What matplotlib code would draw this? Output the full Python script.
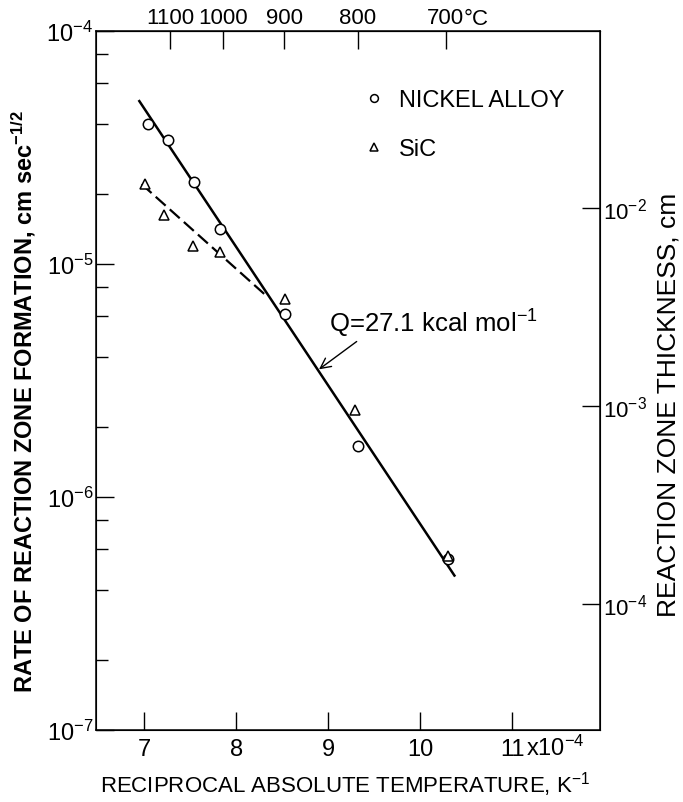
import numpy as np
import matplotlib
matplotlib.use("Agg")
import matplotlib.pyplot as plt
from matplotlib.ticker import FixedLocator, NullFormatter

plt.rcParams['font.family'] = ['Liberation Sans', 'DejaVu Sans']
plt.rcParams['mathtext.default'] = 'regular'

# reciprocal temperature, units of 1e-4 K^-1
nickel_x = [7.04, 7.26, 7.54, 7.83, 8.53, 9.32, 10.30]
nickel_y = [4.0e-5, 3.4e-5, 2.25e-5, 1.41e-5, 6.1e-6, 1.66e-6, 5.4e-7]
sic_x = [7.01, 7.22, 7.53, 7.83, 8.53, 9.29, 10.30]
sic_y = [2.2e-5, 1.63e-5, 1.2e-5, 1.12e-5, 7.06e-6, 2.37e-6, 5.6e-7]

# fitted lines (end points)
fit_x = [6.95, 10.37]
fit_y = [5.0e-5, 4.6e-7]
sic_fit_x = [6.975, 8.32]
sic_fit_y = [2.2e-5, 7.35e-6]

x_ticks = [7, 8, 9, 10, 11]
x_labels = ["7", "8", "9", "10", "11"]
celsius_ticks = [1100, 1000, 900, 800, 700]
celsius_labels = ["1100", "1000", "900", "800", "700"]
right_ticks = [1e-2, 1e-3, 1e-4]
right_labels = ["$10^{-2}$", "$10^{-3}$", "$10^{-4}$"]

fs = 16

fig = plt.figure(figsize=(6.83, 8.03), dpi=100)
ax = fig.add_axes([0.1406, 0.0897, 0.7379, 0.8705])

ax.plot(fit_x, fit_y, color="black", lw=1.8)
ax.plot(sic_fit_x, sic_fit_y, color="black", lw=1.6, ls=(0, (6, 2.5)))
ax.plot(nickel_x, nickel_y, ls="none", marker="o", ms=7.5, mfc="white", mec="black", mew=1.1,
        label="NICKEL ALLOY")
ax.plot(sic_x, sic_y, ls="none", marker="^", ms=7.5, mfc="white", mec="black", mew=1.1,
        label="SiC")

ax.set_yscale("log")
ax.set_xlim(6.48, 11.95)
ax.set_ylim(1e-7, 1e-4)

ax.xaxis.set_major_locator(FixedLocator(x_ticks))
ax.set_xticklabels(x_labels)
ax.yaxis.set_minor_locator(FixedLocator([m * 10.0**e for e in (-7, -6, -5) for m in (2, 4, 6, 8)]))
ax.yaxis.set_minor_formatter(NullFormatter())
ax.yaxis.set_major_locator(FixedLocator([1e-7, 1e-6, 1e-5, 1e-4]))
ax.set_yticklabels(["$10^{-7}$", "$10^{-6}$", "$10^{-5}$", "$10^{-4}$"])

ax.tick_params(which="major", direction="in", length=13, width=1.0, labelsize=fs + 1, pad=6)
ax.tick_params(which="minor", direction="in", length=8.5, width=1.0)
ax.tick_params(axis="y", which="both", right=False)
ax.tick_params(axis="y", pad=2)
for s in ax.spines.values():
    s.set_linewidth(1.1)

# x10^-4 after the 11 label
ax.annotate("x$10^{-4}$", xy=(11, 0), xycoords=("data", "axes fraction"),
            xytext=(9.5, -18.2), textcoords="offset points", ha="left", va="baseline",
            fontsize=fs + 1)

# top Celsius axis
top = ax.secondary_xaxis("top", functions=(lambda x: 1e4 / np.maximum(x, 1e-9) - 273.15,
                                           lambda t: 1e4 / (np.asarray(t) + 273.15)))
top.xaxis.set_major_locator(FixedLocator(celsius_ticks))
top.set_xticklabels(celsius_labels)
top.tick_params(direction="in", length=13, width=1.0, labelsize=fs, pad=2)
top.xaxis.set_minor_locator(FixedLocator([]))
ax.annotate("°C", xy=(1e4 / (700 + 273.15), 1), xycoords=("data", "axes fraction"),
            xytext=(13, 5.3), textcoords="offset points", ha="left", va="baseline",
            fontsize=fs)

# right thickness axis
ax2 = ax.twinx()
ax2.set_yscale("log")
ax2.set_ylim(10**-4.636, 10**-1.106)
ax2.yaxis.set_major_locator(FixedLocator(right_ticks))
ax2.set_yticklabels(right_labels)
ax2.yaxis.set_minor_locator(FixedLocator([]))
ax2.tick_params(direction="in", length=13, width=1.0, labelsize=fs, pad=2)

ax.set_xlabel("RECIPROCAL ABSOLUTE TEMPERATURE, K$^{-1}$", fontsize=fs)
ax.xaxis.set_label_coords(0.495, -0.056)
ax.set_ylabel("RATE OF REACTION ZONE FORMATION, cm sec$^{-1/2}$", fontsize=17,
              fontweight="bold")
ax.yaxis.set_label_coords(-0.115, 0.471)
ax2.set_ylabel("REACTION ZONE THICKNESS, cm", fontsize=19, rotation=90)
ax2.yaxis.set_label_coords(1.112, 0.466)

ax.annotate("Q=27.1 kcal mol$^{-1}$", xy=(8.90, 3.53e-6), xytext=(9.01, 5.6e-6),
            ha="left", va="center", fontsize=18.5,
            arrowprops=dict(arrowstyle="->", lw=1.0, color="black", relpos=(0.15, 0.0),
                            shrinkA=0, shrinkB=0))

ax.legend(loc="upper left", bbox_to_anchor=(0.538, 0.917), frameon=False, fontsize=17,
          handlelength=0.6, handletextpad=0.75, markerscale=0.75, labelspacing=1.15,
          borderaxespad=0, borderpad=0)

fig.savefig("out.png", dpi=100)
